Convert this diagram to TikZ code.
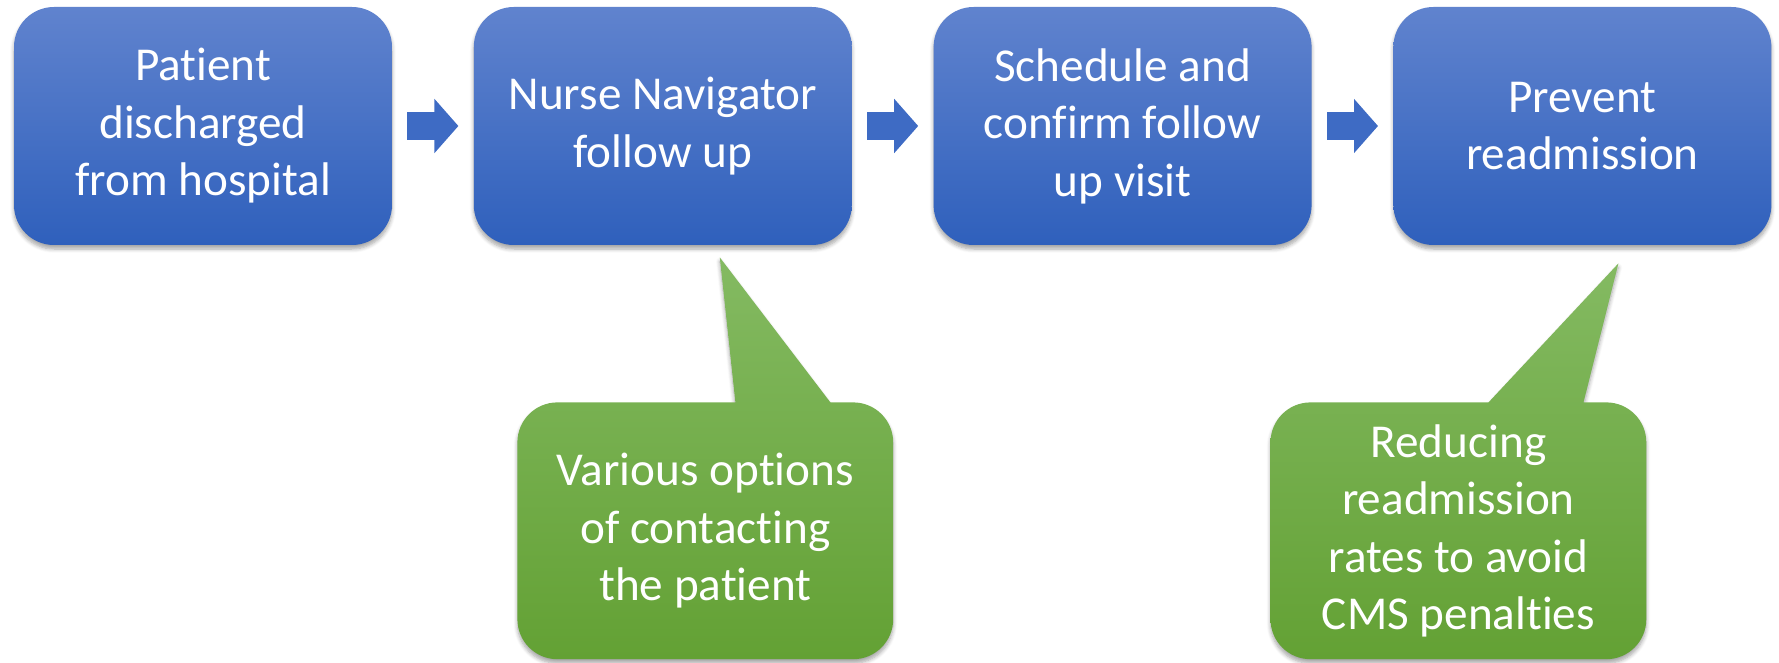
\documentclass[tikz,border=0pt]{standalone}
\usepackage{fontspec}
\setmainfont{Carlito}[Ligatures={NoCommon}]
\usetikzlibrary{arrows.meta, positioning, backgrounds, shadows.blur}

\definecolor{boxtop}{RGB}{96,131,206}
\definecolor{boxbottom}{RGB}{47,96,188}
\definecolor{arrowblue}{RGB}{62,107,196}
\definecolor{notetop}{RGB}{132,186,98}
\definecolor{notebottom}{RGB}{99,161,52}

\begin{document}
\begin{tikzpicture}[
    x=0.5pt, y=-0.5pt,
    every node/.style={font=\fontsize{23.6}{28.75}\selectfont},
    flowbox/.style={
        rectangle,
        rounded corners=20pt,
        top color=boxtop,
        bottom color=boxbottom,
        text=white,
        align=center,
        inner sep=0pt,
        minimum width=189pt,
        minimum height=119pt,
        blur shadow={shadow xshift=0pt, shadow yshift=-2pt, shadow blur steps=6, shadow opacity=35}
    },
    notebox/.style={
        rectangle,
        text=white,
        align=center,
        inner sep=0pt,
        minimum width=187.5pt,
        minimum height=128pt
    },
    noteshape/.style={
        top color=notetop,
        bottom color=notebottom,
        blur shadow={shadow xshift=0pt, shadow yshift=-2pt, shadow blur steps=6, shadow opacity=35}
    },
    flowarrow/.style={
        line width=14pt,
        draw=arrowblue,
        -{Triangle[width=26.5pt, length=12pt]},
        shorten <=7.5pt,
        shorten >=7.5pt
    }
]

\useasboundingbox (0,0) rectangle (1779,663);

% Process steps
\node[flowbox] (discharged) at (203,126) {Patient\\discharged\\from hospital};
\node[flowbox, right=40.5pt of discharged] (navigator) {Nurse Navigator\\follow up};
\node[flowbox, right=40.5pt of navigator] (schedule) {Schedule and\\confirm follow\\up visit};
\node[flowbox, right=40.5pt of schedule] (prevent) {Prevent\\readmission};

% Step arrows
\draw[flowarrow] (discharged) -- (navigator);
\draw[flowarrow] (navigator) -- (schedule);
\draw[flowarrow] (schedule) -- (prevent);

% Callout notes
\node[notebox, below=78.5pt of navigator, xshift=21.25pt] (contact) {Various options\\of contacting\\the patient};
\node[notebox, below=78.5pt of prevent, xshift=-62pt] (penalty) {Reducing\\readmission\\rates to avoid\\CMS penalties};

\coordinate (contacttip) at ([xshift=28.5pt, yshift=-6pt]navigator.south);
\coordinate (penaltytip) at ([xshift=18pt, yshift=-9pt]prevent.south);

\begin{scope}[on background layer]
\path[noteshape] (contact.south) [rounded corners=20pt] -- (contact.south west) -- (contact.north west)
    [sharp corners] -- ([xshift=109pt]contact.north west) -- (contacttip)
    -- ([xshift=156.5pt]contact.north west)
    [rounded corners=20pt] -- (contact.north east) -- (contact.south east) -- cycle;
\path[noteshape] (penalty.south) [rounded corners=20pt] -- (penalty.south west) -- (penalty.north west)
    [sharp corners] -- ([xshift=109pt]penalty.north west) -- (penaltytip)
    -- ([xshift=156.5pt]penalty.north west)
    [rounded corners=20pt] -- (penalty.north east) -- (penalty.south east) -- cycle;
\end{scope}

\end{tikzpicture}
\end{document}
